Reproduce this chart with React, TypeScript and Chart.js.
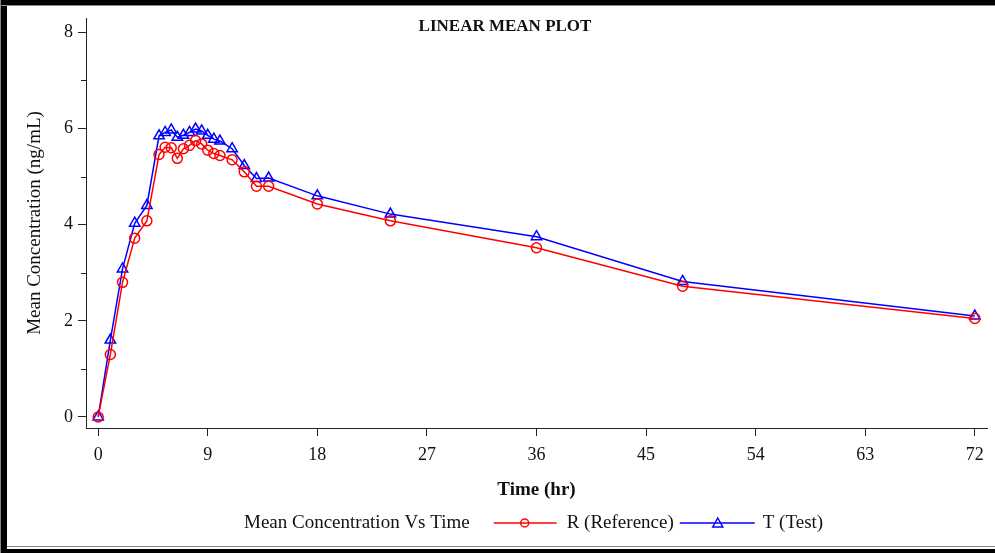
import React, { useEffect, useRef } from "react";
import { Chart, registerables } from "chart.js";

Chart.register(...registerables);

const times = [0, 1, 2, 3, 4, 5, 5.5, 6, 6.5, 7, 7.5, 8, 8.5, 9, 9.5, 10, 11, 12, 13, 14, 18, 24, 36, 48, 72];
const refValues = [0, 1.3, 2.8, 3.72, 4.08, 5.46, 5.61, 5.6, 5.38, 5.58, 5.65, 5.75, 5.68, 5.55, 5.48, 5.44, 5.35, 5.1, 4.8, 4.8, 4.43, 4.08, 3.52, 2.72, 2.05];
const testValues = [0, 1.6, 3.08, 4.03, 4.4, 5.85, 5.92, 5.97, 5.82, 5.86, 5.92, 5.99, 5.95, 5.86, 5.78, 5.74, 5.58, 5.23, 4.96, 4.97, 4.6, 4.22, 3.75, 2.82, 2.1];
const xTicks = [0, 9, 18, 27, 36, 45, 54, 63, 72];
const yMajorTicks = [0, 2, 4, 6, 8];
const yMinorTicks = [1, 3, 5, 7];

const chartTitle = "LINEAR MEAN PLOT";
const legendTitle = "Mean Concentration Vs Time";
const refLabel = "R (Reference)";
const testLabel = "T (Test)";

const SERIF = "'Liberation Serif', 'Times New Roman', serif";

export default function App() {
  const canvasRef = useRef<HTMLCanvasElement | null>(null);

  useEffect(() => {
    document.body.style.margin = "0";
    const canvas = canvasRef.current;
    if (!canvas) return;

    const decor = {
      id: "decor",
      beforeDraw(chart: any) {
        const ctx = chart.ctx;
        ctx.save();
        ctx.fillStyle = "#ffffff";
        ctx.fillRect(0, 0, chart.width, chart.height);
        ctx.restore();
      },
      afterDraw(chart: any) {
        const ctx = chart.ctx;
        const ys = chart.scales.y;
        const area = chart.chartArea;
        ctx.save();
        // minor y ticks
        ctx.strokeStyle = "#222";
        ctx.lineWidth = 1;
        yMinorTicks.forEach((v) => {
          const py = Math.round(ys.getPixelForValue(v)) + 0.5;
          ctx.beginPath();
          ctx.moveTo(area.left - 5, py);
          ctx.lineTo(area.left, py);
          ctx.stroke();
        });
        // title
        ctx.fillStyle = "#111";
        ctx.font = `bold 17px ${SERIF}`;
        ctx.textAlign = "center";
        ctx.textBaseline = "middle";
        ctx.fillText(chartTitle, 505, 27);

        // legend
        const ly = 523;
        ctx.font = `19px ${SERIF}`;
        ctx.textAlign = "left";
        let x = 244;
        ctx.fillText(legendTitle, x, ly);
        x += ctx.measureText(legendTitle).width + 24;
        // red
        ctx.strokeStyle = "#ff0000";
        ctx.lineWidth = 1.5;
        ctx.beginPath();
        ctx.moveTo(x, ly);
        ctx.lineTo(x + 63, ly);
        ctx.stroke();
        ctx.beginPath();
        ctx.arc(x + 31, ly, 4, 0, Math.PI * 2);
        ctx.stroke();
        x += 63 + 10;
        ctx.fillText(refLabel, x, ly);
        x += ctx.measureText(refLabel).width + 6;
        // blue
        ctx.strokeStyle = "#0000ff";
        ctx.beginPath();
        ctx.moveTo(x, ly);
        ctx.lineTo(x + 75, ly);
        ctx.stroke();
        const tx = x + 38;
        ctx.beginPath();
        ctx.moveTo(tx, ly - 5);
        ctx.lineTo(tx + 5, ly + 4);
        ctx.lineTo(tx - 5, ly + 4);
        ctx.closePath();
        ctx.stroke();
        x += 75 + 8;
        ctx.fillText(testLabel, x, ly);

        // frame
        ctx.fillStyle = "#000";
        ctx.fillRect(0, 0, chart.width, 5);
        ctx.fillRect(1, 0, 6, chart.height);
        ctx.fillRect(0, 549, chart.width, 4);
        ctx.fillStyle = "#888";
        ctx.fillRect(0, 5, chart.width, 1);
        ctx.fillRect(0, 0, 1, chart.height);
        ctx.fillRect(7, 546, chart.width - 7, 1);
        ctx.restore();
      },
    };

    const chart = new Chart(canvas, {
      type: "line",
      data: {
        datasets: [
          {
            label: refLabel,
            data: times.map((t, i) => ({ x: t, y: refValues[i] })),
            borderColor: "#ff0000",
            backgroundColor: "rgba(0,0,0,0)",
            borderWidth: 1.5,
            pointStyle: "circle",
            pointRadius: 5,
            pointBorderWidth: 1.5,
            pointBorderColor: "#ff0000",
            pointBackgroundColor: "rgba(0,0,0,0)",
            tension: 0,
          },
          {
            label: testLabel,
            data: times.map((t, i) => ({ x: t, y: testValues[i] })),
            borderColor: "#0000ff",
            backgroundColor: "rgba(0,0,0,0)",
            borderWidth: 1.5,
            pointStyle: "triangle",
            pointRadius: 6,
            pointBorderWidth: 1.5,
            pointBorderColor: "#0000ff",
            pointBackgroundColor: "rgba(0,0,0,0)",
            tension: 0,
          },
        ],
      },
      options: {
        responsive: false,
        animation: false,
        layout: { padding: { left: 8, right: 8, top: 18, bottom: 45 } },
        plugins: {
          legend: { display: false },
          tooltip: { enabled: false },
          title: { display: false },
        },
        scales: {
          x: {
            type: "linear",
            min: -1,
            max: 73,
            afterBuildTicks: (s: any) => {
              s.ticks = xTicks.map((v) => ({ value: v }));
            },
            afterFit: (s: any) => {
              s.height = 80;
            },
            grid: { display: true, drawOnChartArea: false, drawTicks: true, tickLength: 8, tickColor: "#222", tickWidth: 1 },
            border: { display: true, color: "#222", width: 1 },
            ticks: {
              color: "#111",
              font: { family: SERIF, size: 18 },
              padding: 8,
              maxRotation: 0,
              autoSkip: false,
            },
            title: {
              display: true,
              text: "Time (hr)",
              color: "#111",
              font: { family: SERIF, size: 19, weight: "bold" },
              padding: { top: 0, bottom: 7 },
            },
          },
          y: {
            type: "linear",
            min: -0.23,
            max: 8.3,
            afterBuildTicks: (s: any) => {
              s.ticks = yMajorTicks.map((v) => ({ value: v }));
            },
            afterFit: (s: any) => {
              s.width = 78;
            },
            grid: { display: true, drawOnChartArea: false, drawTicks: true, tickLength: 8, tickColor: "#222", tickWidth: 1 },
            border: { display: true, color: "#222", width: 1 },
            ticks: {
              color: "#111",
              font: { family: SERIF, size: 18 },
              padding: 5,
              autoSkip: false,
            },
            title: {
              display: true,
              text: "Mean Concentration (ng/mL)",
              color: "#111",
              font: { family: SERIF, size: 19 },
              padding: { top: 16, bottom: 0 },
            },
          },
        },
      },
      plugins: [decor],
    } as any);

    return () => {
      chart.destroy();
    };
  }, []);

  return (
    <div style={{ width: 995, height: 553 }}>
      <canvas ref={canvasRef} width={995} height={553} style={{ display: "block" }} />
    </div>
  );
}
